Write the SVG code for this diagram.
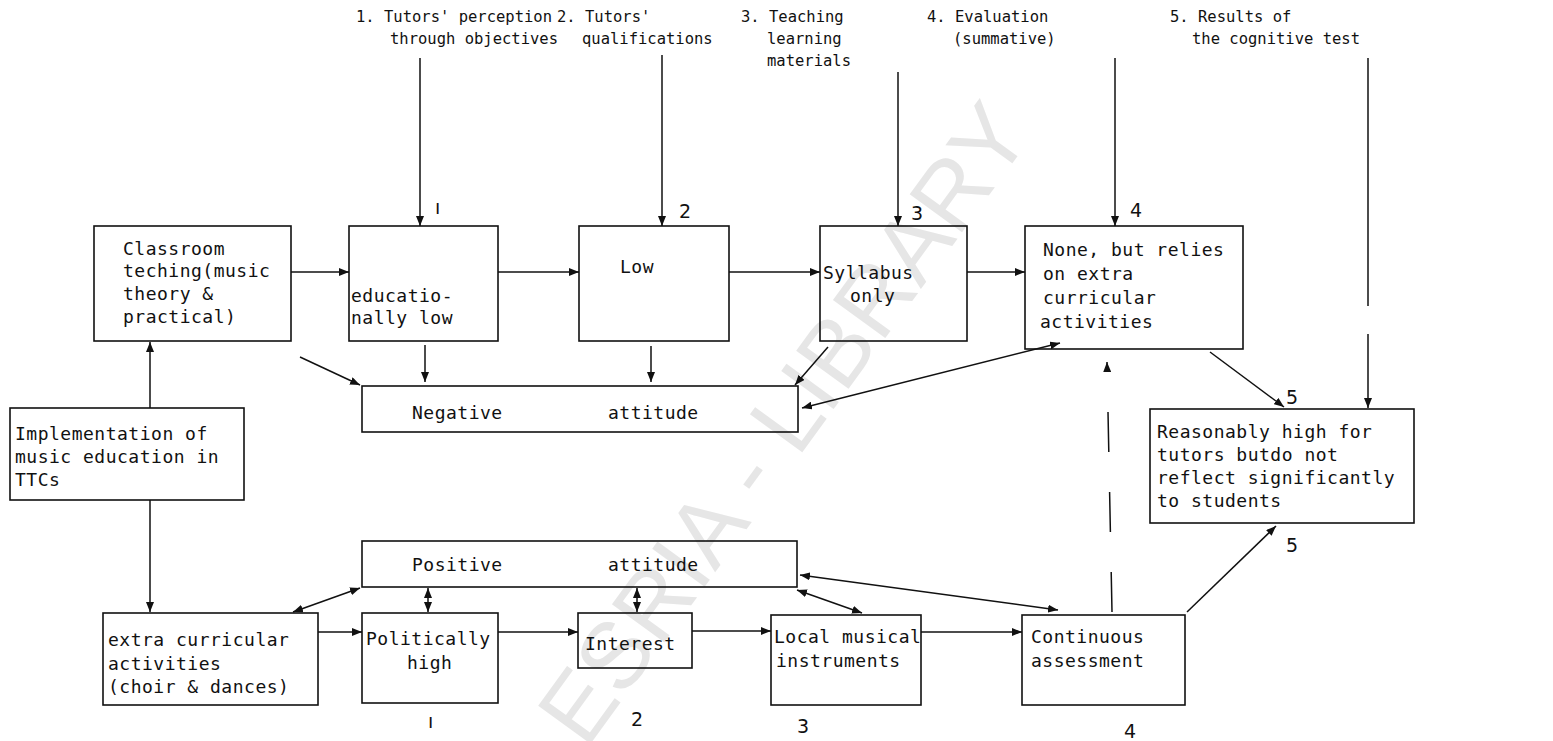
<svg xmlns="http://www.w3.org/2000/svg" width="1553" height="741" viewBox="0 0 1553 741">
<defs>
<style>
.wm{font-family:"Liberation Sans",Arial,sans-serif;font-size:94px;fill:#e6e6e6}
.lbl{font-family:"DejaVu Sans Mono","Liberation Mono",monospace;font-size:15.5px;fill:#111}
.t{font-family:"DejaVu Sans Mono","Liberation Mono",monospace;font-size:18px;letter-spacing:0.5px;fill:#111}
.num{font-family:"DejaVu Sans","Liberation Sans",sans-serif;font-size:19px;fill:#111}
.box{fill:none;stroke:#111;stroke-width:1.6}
.c{fill:none;stroke:#111;stroke-width:1.5}
.dash{stroke-dasharray:40 40}
</style>
<marker id="ah" viewBox="0 0 10 8" refX="10" refY="4" markerWidth="10" markerHeight="8" markerUnits="userSpaceOnUse" orient="auto-start-reverse">
<path d="M0,0 L10,4 L0,8 z" fill="#111"/>
</marker>
</defs>
<rect width="1553" height="741" fill="#fff"/>
<text class="wm" transform="translate(586,750) rotate(-54)">ESRIA - LIBRARY</text>

<g id="top-labels">
<text class="lbl" x="356" y="22">1. Tutors' perception</text>
<text class="lbl" x="390" y="44">through objectives</text>
<text class="lbl" x="557" y="22">2. Tutors'</text>
<text class="lbl" x="582" y="44">qualifications</text>
<text class="lbl" x="741" y="22">3. Teaching</text>
<text class="lbl" x="767" y="44">learning</text>
<text class="lbl" x="767" y="66">materials</text>
<text class="lbl" x="927" y="22">4. Evaluation</text>
<text class="lbl" x="953" y="44">(summative)</text>
<text class="lbl" x="1170" y="22">5. Results of</text>
<text class="lbl" x="1192" y="44">the cognitive test</text>
</g>

<g id="n-classroom">
<rect class="box" x="94" y="226" width="197" height="115"/>
<text class="t" x="123" y="255">Classroom</text>
<text class="t" x="123" y="277">teching(music</text>
<text class="t" x="123" y="300">theory &amp;</text>
<text class="t" x="123" y="323">practical)</text>
</g>
<g id="n-educ">
<rect class="box" x="349" y="226" width="149" height="115"/>
<text class="t" x="351" y="302">educatio-</text>
<text class="t" x="351" y="324">nally low</text>
</g>
<g id="n-low">
<rect class="box" x="579" y="226" width="150" height="115"/>
<text class="t" x="620" y="273">Low</text>
</g>
<g id="n-syllabus">
<rect class="box" x="820" y="226" width="147" height="115"/>
<text class="t" x="823" y="279">Syllabus</text>
<text class="t" x="850" y="302">only</text>
</g>
<g id="n-none">
<rect class="box" x="1025" y="226" width="218" height="123"/>
<text class="t" x="1043" y="256">None, but relies</text>
<text class="t" x="1043" y="280">on extra</text>
<text class="t" x="1043" y="304">curricular</text>
<text class="t" x="1040" y="328">activities</text>
</g>
<g id="n-negative">
<rect class="box" x="362" y="386" width="436" height="46"/>
<text class="t" x="412" y="419">Negative</text>
<text class="t" x="608" y="419">attitude</text>
</g>
<g id="n-implementation">
<rect class="box" x="10" y="408" width="234" height="92"/>
<text class="t" x="15" y="440">Implementation of</text>
<text class="t" x="15" y="463">music education in</text>
<text class="t" x="15" y="486">TTCs</text>
</g>
<g id="n-reasonably">
<rect class="box" x="1150" y="409" width="264" height="114"/>
<text class="t" x="1157" y="438">Reasonably high for</text>
<text class="t" x="1157" y="461">tutors butdo not</text>
<text class="t" x="1157" y="484">reflect significantly</text>
<text class="t" x="1157" y="507">to students</text>
</g>
<g id="n-positive">
<rect class="box" x="362" y="541" width="435" height="46"/>
<text class="t" x="412" y="571">Positive</text>
<text class="t" x="608" y="571">attitude</text>
</g>
<g id="n-extra">
<rect class="box" x="103" y="613" width="215" height="92"/>
<text class="t" x="108" y="646">extra curricular</text>
<text class="t" x="108" y="670">activities</text>
<text class="t" x="108" y="693">(choir &amp; dances)</text>
</g>
<g id="n-political">
<rect class="box" x="362" y="613" width="136" height="90"/>
<text class="t" x="366" y="645">Politically</text>
<text class="t" x="407" y="669">high</text>
</g>
<g id="n-interest">
<rect class="box" x="578" y="613" width="114" height="55"/>
<text class="t" x="585" y="650">Interest</text>
</g>
<g id="n-local">
<rect class="box" x="771" y="615" width="150" height="90"/>
<text class="t" x="774" y="643">Local musical</text>
<text class="t" x="776" y="667">instruments</text>
</g>
<g id="n-continuous">
<rect class="box" x="1022" y="615" width="163" height="90"/>
<text class="t" x="1031" y="643">Continuous</text>
<text class="t" x="1031" y="667">assessment</text>
</g>

<g id="numbers">
<text class="num" x="435" y="214" font-size="14">ı</text>
<text class="num" x="679" y="218">2</text>
<text class="num" x="911" y="220">3</text>
<text class="num" x="1130" y="217">4</text>
<text class="num" x="1286" y="404">5</text>
<text class="num" x="1286" y="552">5</text>
<text class="num" x="428" y="728" font-size="14">ı</text>
<text class="num" x="631" y="726">2</text>
<text class="num" x="797" y="733">3</text>
<text class="num" x="1124" y="738">4</text>
</g>

<g id="connectors">
<path class="c" d="M420,58 V226" marker-end="url(#ah)"/>
<path class="c" d="M662,55 V226" marker-end="url(#ah)"/>
<path class="c" d="M898,72 V226" marker-end="url(#ah)"/>
<path class="c" d="M1115,58 V226" marker-end="url(#ah)"/>
<path class="c" d="M1368,58 V306"/>
<path class="c" d="M1368,334 V408" marker-end="url(#ah)"/>
<path class="c" d="M291,272 H349" marker-end="url(#ah)"/>
<path class="c" d="M498,272 H579" marker-end="url(#ah)"/>
<path class="c" d="M729,272 H820" marker-end="url(#ah)"/>
<path class="c" d="M967,272 H1025" marker-end="url(#ah)"/>
<path class="c" d="M300,357 L360,385" marker-end="url(#ah)"/>
<path class="c" d="M425,345 V382" marker-end="url(#ah)"/>
<path class="c" d="M651,346 V382" marker-end="url(#ah)"/>
<path class="c" d="M828,347 L795,385" marker-end="url(#ah)"/>
<path class="c" d="M1060,343 L802,408" marker-start="url(#ah)" marker-end="url(#ah)"/>
<path class="c" d="M1210,352 L1284,407" marker-end="url(#ah)"/>
<path class="c dash" d="M1112,612 L1107,362" marker-end="url(#ah)"/>
<path class="c" d="M150,408 V342" marker-end="url(#ah)"/>
<path class="c" d="M150,500 V612" marker-end="url(#ah)"/>
<path class="c" d="M318,632 H362" marker-end="url(#ah)"/>
<path class="c" d="M498,632 H578" marker-end="url(#ah)"/>
<path class="c" d="M692,631 H771" marker-end="url(#ah)"/>
<path class="c" d="M921,632 H1022" marker-end="url(#ah)"/>
<path class="c" d="M293,612 L360,588" marker-start="url(#ah)" marker-end="url(#ah)"/>
<path class="c" d="M428,612 V588" marker-start="url(#ah)" marker-end="url(#ah)"/>
<path class="c" d="M637,612 V588" marker-start="url(#ah)" marker-end="url(#ah)"/>
<path class="c" d="M862,613 L797,590" marker-start="url(#ah)" marker-end="url(#ah)"/>
<path class="c" d="M1058,610 L800,575" marker-start="url(#ah)" marker-end="url(#ah)"/>
<path class="c" d="M1187,612 L1276,526" marker-end="url(#ah)"/>
</g>
</svg>
